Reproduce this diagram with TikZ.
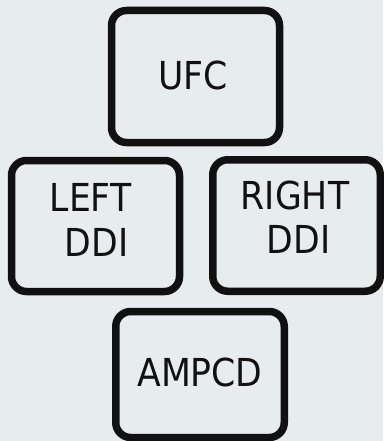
\documentclass[tikz,border=0pt]{standalone}
\usepackage{fontspec}
\setmainfont{DejaVu Sans Condensed}
\definecolor{bgc}{HTML}{E7ECEF}
\definecolor{ink}{HTML}{111111}
\begin{document}
\begin{tikzpicture}[x=1pt,y=-1pt,
  panel/.style={draw=ink, line width=7.5pt, rounded corners=15pt, inner sep=0pt, outer sep=0pt},
  lbl/.style={anchor=base, inner sep=0pt, text=ink, font=\fontsize{38.5}{44}\selectfont}]
\fill[bgc] (0,0) rectangle (383,441);
\useasboundingbox (0,0) rectangle (383,441);
% boxes
\node[panel, minimum width=168pt, minimum height=132pt] (ufc) at (195.5,76.5) {};
\node[panel, minimum width=168pt, minimum height=131pt] (lddi) at (95.5,226) {};
\node[panel, minimum width=167.5pt, minimum height=131.5pt] (rddi) at (296.5,225.5) {};
\node[panel, minimum width=168.5pt, minimum height=126pt] (ampcd) at (200,374.5) {};
% labels
\node[lbl] (ufct) at (193,90) {UFC};
\node[lbl] (lt1) at (90.5,211) {LEFT};
\node[lbl] (lt2) at (96.5,256) {DDI};
\node[lbl] (rt1) at (295,209) {RIGHT};
\node[lbl] (rt2) at (298.5,253) {DDI};
\node[lbl] (at1) at (200,386) {AMPCD};
\end{tikzpicture}
\end{document}
